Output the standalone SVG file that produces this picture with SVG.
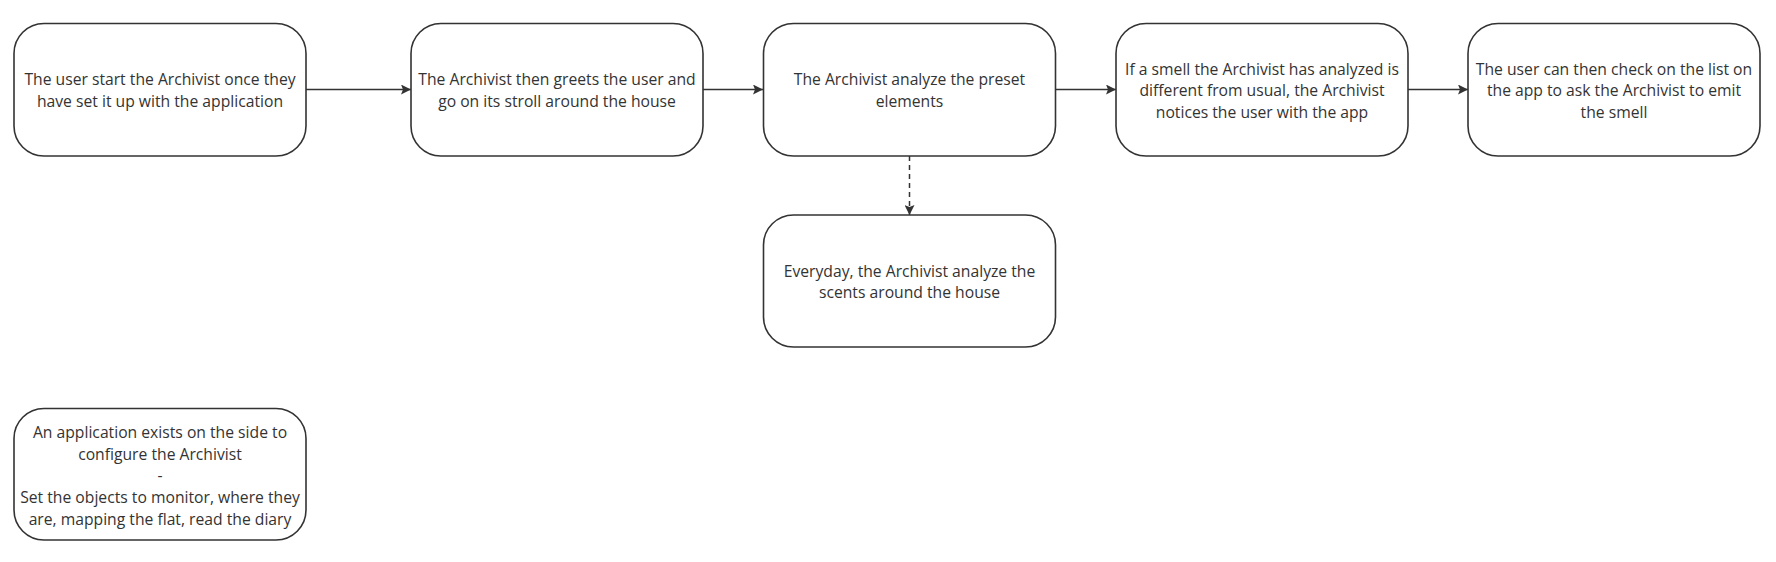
<svg xmlns="http://www.w3.org/2000/svg" width="1776" height="562" viewBox="0 0 1776 562">
<style>
.node rect{fill:#ffffff;stroke:#333333;stroke-width:1.6}
.node text{font-family:"Open Sans","Noto Sans","Liberation Sans",sans-serif;font-size:15.7px;fill:#333333;text-anchor:middle}
.conn{stroke:#333333;stroke-width:1.5;fill:none}
</style>
<defs>
<marker id="arr" viewBox="0 0 10 10" refX="10" refY="5" markerWidth="10" markerHeight="10" markerUnits="userSpaceOnUse" orient="auto">
<path d="M0,0 L10,5 L0,10 L2,5 Z" fill="#333333"/>
</marker>
</defs>
<rect x="0" y="0" width="1776" height="562" fill="#ffffff"/>
<g id="connectors">
<line class="conn" x1="306" y1="89.5" x2="411" y2="89.5" marker-end="url(#arr)"/>
<line class="conn" x1="703" y1="89.5" x2="763" y2="89.5" marker-end="url(#arr)"/>
<line class="conn" x1="1055" y1="89.5" x2="1116" y2="89.5" marker-end="url(#arr)"/>
<line class="conn" x1="1408" y1="89.5" x2="1468" y2="89.5" marker-end="url(#arr)"/>
<line class="conn" x1="909.5" y1="156" x2="909.5" y2="215" stroke-dasharray="5 4" marker-end="url(#arr)"/>
</g>
<g id="node1" class="node">
<rect x="14" y="23.5" width="292" height="132.5" rx="30" ry="30"/>
<text x="160" y="85">The user start the Archivist once they</text>
<text x="160" y="106.5">have set it up with the application</text>
</g>
<g id="node2" class="node">
<rect x="411" y="23.5" width="292" height="132.5" rx="30" ry="30"/>
<text x="557" y="85">The Archivist then greets the user and</text>
<text x="557" y="106.5">go on its stroll around the house</text>
</g>
<g id="node3" class="node">
<rect x="763.5" y="23.5" width="292" height="132.5" rx="30" ry="30"/>
<text x="909.5" y="85">The Archivist analyze the preset</text>
<text x="909.5" y="106.5">elements</text>
</g>
<g id="node4" class="node">
<rect x="1116" y="23.5" width="292" height="132.5" rx="30" ry="30"/>
<text x="1262" y="74.5">If a smell the Archivist has analyzed is</text>
<text x="1262" y="96">different from usual, the Archivist</text>
<text x="1262" y="117.5">notices the user with the app</text>
</g>
<g id="node5" class="node">
<rect x="1468" y="23.5" width="292" height="132.5" rx="30" ry="30"/>
<text x="1614" y="74.5">The user can then check on the list on</text>
<text x="1614" y="96">the app to ask the Archivist to emit</text>
<text x="1614" y="117.5">the smell</text>
</g>
<g id="node6" class="node">
<rect x="763.5" y="215" width="292" height="132" rx="30" ry="30"/>
<text x="909.5" y="276.5">Everyday, the Archivist analyze the</text>
<text x="909.5" y="298">scents around the house</text>
</g>
<g id="node7" class="node">
<rect x="14" y="408.5" width="292" height="131.5" rx="30" ry="30"/>
<text x="160" y="438">An application exists on the side to</text>
<text x="160" y="459.5">configure the Archivist</text>
<text x="160" y="481">-</text>
<text x="160" y="502.5">Set the objects to monitor, where they</text>
<text x="160" y="524.5">are, mapping the flat, read the diary</text>
</g>
</svg>
